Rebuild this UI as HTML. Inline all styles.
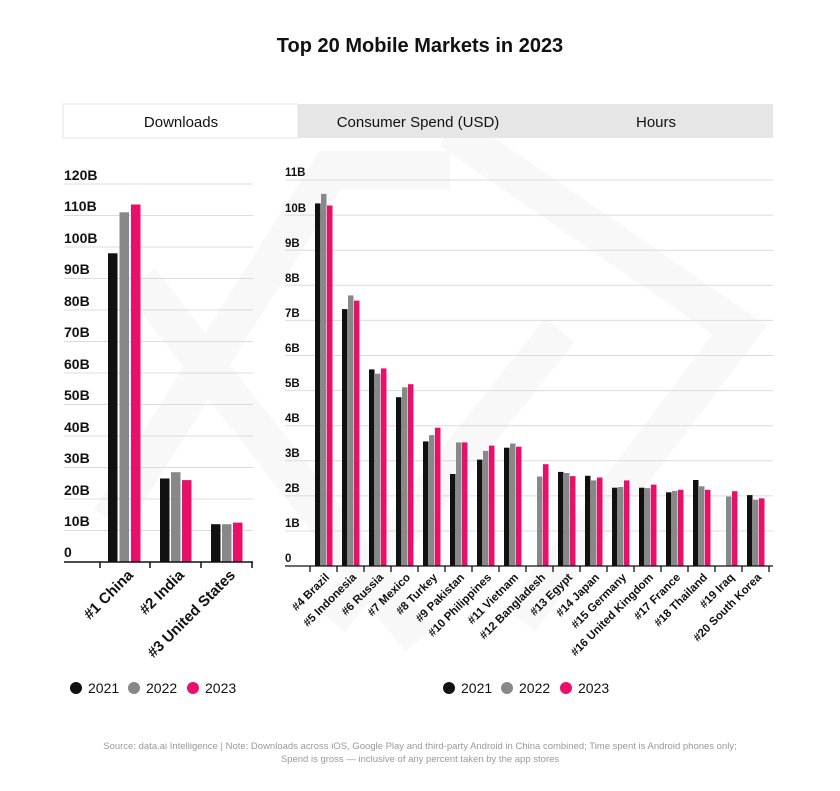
<!DOCTYPE html>
<html><head><meta charset="utf-8"><style>
body{margin:0;background:#fff;}
svg{display:block;font-family:"Liberation Sans",sans-serif;}
</style></head><body>
<svg width="840" height="791" viewBox="0 0 840 791" xmlns="http://www.w3.org/2000/svg">
<rect width="840" height="791" fill="#fff"/>
<!-- watermark -->
<g stroke="#f8f8f8" stroke-width="38" fill="none" stroke-linejoin="miter">
<polyline points="110,520 330,170 450,170"/>
<polyline points="140,280 420,640"/>
<polyline points="450,130 740,330 520,620"/>
<polyline points="330,620 560,330"/>
</g>
<text x="420" y="52" text-anchor="middle" font-size="20" font-weight="bold" fill="#111">Top 20 Mobile Markets in 2023</text>
<!-- tabs -->
<rect x="298" y="104" width="475" height="34" fill="#e6e6e6"/>
<rect x="63" y="104" width="235" height="34" fill="#fff" stroke="#e6e6e6"/>
<text x="181" y="127" text-anchor="middle" font-size="15" fill="#111">Downloads</text>
<text x="418" y="127" text-anchor="middle" font-size="15" fill="#111">Consumer Spend (USD)</text>
<text x="656" y="127" text-anchor="middle" font-size="15" fill="#111">Hours</text>
<!-- left grid -->
<g stroke="#dcdcdc" stroke-width="1">
<line x1="64" x2="253" y1="184" y2="184"/><line x1="64" x2="253" y1="215.5" y2="215.5"/><line x1="64" x2="253" y1="247" y2="247"/><line x1="64" x2="253" y1="278.5" y2="278.5"/><line x1="64" x2="253" y1="310" y2="310"/><line x1="64" x2="253" y1="341.5" y2="341.5"/><line x1="64" x2="253" y1="373" y2="373"/><line x1="64" x2="253" y1="404.5" y2="404.5"/><line x1="64" x2="253" y1="436" y2="436"/><line x1="64" x2="253" y1="467.5" y2="467.5"/><line x1="64" x2="253" y1="499" y2="499"/><line x1="64" x2="253" y1="530.5" y2="530.5"/>
</g>
<g font-size="14" font-weight="bold" fill="#111">
<text x="64" y="180">120B</text><text x="64" y="211">110B</text><text x="64" y="243">100B</text><text x="64" y="274">90B</text><text x="64" y="306">80B</text><text x="64" y="337">70B</text><text x="64" y="369">60B</text><text x="64" y="400">50B</text><text x="64" y="432">40B</text><text x="64" y="463">30B</text><text x="64" y="495">20B</text><text x="64" y="526">10B</text><text x="64" y="557">0</text>
</g>
<rect x="108" y="253.3" width="9.5" height="308.7" fill="#111"/>
<rect x="119.5" y="212.3" width="9.5" height="349.7" fill="#888"/>
<rect x="131" y="204.5" width="9.5" height="357.5" fill="#e8106a"/>
<rect x="160" y="478.5" width="9.5" height="83.5" fill="#111"/>
<rect x="171" y="472.2" width="9.5" height="89.8" fill="#888"/>
<rect x="182" y="480.1" width="9.5" height="81.9" fill="#e8106a"/>
<rect x="211" y="524.2" width="9.5" height="37.8" fill="#111"/>
<rect x="222" y="524.2" width="9.5" height="37.8" fill="#888"/>
<rect x="233" y="522.6" width="9.5" height="39.4" fill="#e8106a"/>
<g stroke="#111" stroke-width="1.5">
<line x1="64" x2="253" y1="562" y2="562"/>
<line x1="100" x2="100" y1="562" y2="568"/><line x1="150" x2="150" y1="562" y2="568"/><line x1="201" x2="201" y1="562" y2="568"/><line x1="252" x2="252" y1="562" y2="568"/>
</g>
<g font-size="15" font-weight="bold" fill="#111" text-anchor="end">
<text transform="translate(134,576) rotate(-45)">#1 China</text>
<text transform="translate(185,576) rotate(-45)">#2 India</text>
<text transform="translate(236,576) rotate(-45)">#3 United States</text>
</g>
<!-- right grid -->
<g stroke="#dcdcdc" stroke-width="1">
<line x1="285" x2="773" y1="180" y2="180"/><line x1="285" x2="773" y1="215.1" y2="215.1"/><line x1="285" x2="773" y1="250.2" y2="250.2"/><line x1="285" x2="773" y1="285.3" y2="285.3"/><line x1="285" x2="773" y1="320.4" y2="320.4"/><line x1="285" x2="773" y1="355.5" y2="355.5"/><line x1="285" x2="773" y1="390.6" y2="390.6"/><line x1="285" x2="773" y1="425.7" y2="425.7"/><line x1="285" x2="773" y1="460.8" y2="460.8"/><line x1="285" x2="773" y1="495.9" y2="495.9"/><line x1="285" x2="773" y1="531" y2="531"/>
</g>
<g font-size="11.5" font-weight="bold" fill="#111">
<text x="285" y="176">11B</text><text x="285" y="212">10B</text><text x="285" y="247">9B</text><text x="285" y="282">8B</text><text x="285" y="317">7B</text><text x="285" y="352">6B</text><text x="285" y="387">5B</text><text x="285" y="422">4B</text><text x="285" y="457">3B</text><text x="285" y="492">2B</text><text x="285" y="527">1B</text><text x="285" y="562">0</text>
</g>
<g>
<rect x="315" y="203.4" width="5.5" height="362.6" fill="#111"/><rect x="321" y="193.9" width="5.5" height="372.1" fill="#888"/><rect x="327" y="205.5" width="5.5" height="360.5" fill="#e8106a"/>
<rect x="342" y="309.1" width="5.5" height="256.9" fill="#111"/><rect x="348" y="295.4" width="5.5" height="270.6" fill="#888"/><rect x="354" y="300.6" width="5.5" height="265.4" fill="#e8106a"/>
<rect x="369" y="369.4" width="5.5" height="196.6" fill="#111"/><rect x="375" y="373.7" width="5.5" height="192.3" fill="#888"/><rect x="381" y="368.4" width="5.5" height="197.6" fill="#e8106a"/>
<rect x="396" y="397.2" width="5.5" height="168.8" fill="#111"/><rect x="402" y="387.3" width="5.5" height="178.7" fill="#888"/><rect x="408" y="384.2" width="5.5" height="181.8" fill="#e8106a"/>
<rect x="423" y="441.4" width="5.5" height="124.6" fill="#111"/><rect x="429" y="435.1" width="5.5" height="130.9" fill="#888"/><rect x="435" y="427.7" width="5.5" height="138.3" fill="#e8106a"/>
<rect x="450" y="474" width="5.5" height="92" fill="#111"/><rect x="456" y="442.4" width="5.5" height="123.6" fill="#888"/><rect x="462" y="442.4" width="5.5" height="123.6" fill="#e8106a"/>
<rect x="477" y="459.6" width="5.5" height="106.4" fill="#111"/><rect x="483" y="450.9" width="5.5" height="115.1" fill="#888"/><rect x="489" y="445.6" width="5.5" height="120.4" fill="#e8106a"/>
<rect x="504" y="447.7" width="5.5" height="118.3" fill="#111"/><rect x="510" y="443.5" width="5.5" height="122.5" fill="#888"/><rect x="516" y="446.7" width="5.5" height="119.3" fill="#e8106a"/>
<rect x="537" y="476.5" width="5.5" height="89.5" fill="#888"/><rect x="543" y="464.2" width="5.5" height="101.8" fill="#e8106a"/>
<rect x="558" y="471.9" width="5.5" height="94.1" fill="#111"/><rect x="564" y="473" width="5.5" height="93" fill="#888"/><rect x="570" y="476.1" width="5.5" height="89.9" fill="#e8106a"/>
<rect x="585" y="475.8" width="5.5" height="90.2" fill="#111"/><rect x="591" y="480.4" width="5.5" height="85.6" fill="#888"/><rect x="597" y="477.5" width="5.5" height="88.5" fill="#e8106a"/>
<rect x="612" y="487.7" width="5.5" height="78.3" fill="#111"/><rect x="618" y="487" width="5.5" height="79" fill="#888"/><rect x="624" y="480.4" width="5.5" height="85.6" fill="#e8106a"/>
<rect x="639" y="487.7" width="5.5" height="78.3" fill="#111"/><rect x="645" y="488.1" width="5.5" height="77.9" fill="#888"/><rect x="651" y="484.6" width="5.5" height="81.4" fill="#e8106a"/>
<rect x="666" y="492.3" width="5.5" height="73.7" fill="#111"/><rect x="672" y="490.9" width="5.5" height="75.1" fill="#888"/><rect x="678" y="489.8" width="5.5" height="76.2" fill="#e8106a"/>
<rect x="693" y="480" width="5.5" height="86" fill="#111"/><rect x="699" y="486.3" width="5.5" height="79.7" fill="#888"/><rect x="705" y="489.8" width="5.5" height="76.2" fill="#e8106a"/>
<rect x="726" y="496.5" width="5.5" height="69.5" fill="#888"/><rect x="732" y="491.2" width="5.5" height="74.8" fill="#e8106a"/>
<rect x="747" y="495.1" width="5.5" height="70.9" fill="#111"/><rect x="753" y="499.7" width="5.5" height="66.3" fill="#888"/><rect x="759" y="498.3" width="5.5" height="67.7" fill="#e8106a"/>
</g>
<g stroke="#111" stroke-width="1.3">
<line x1="285" x2="773" y1="566" y2="566"/>
<line x1="310" x2="310" y1="566" y2="572"/><line x1="337" x2="337" y1="566" y2="572"/><line x1="364" x2="364" y1="566" y2="572"/><line x1="391" x2="391" y1="566" y2="572"/><line x1="418" x2="418" y1="566" y2="572"/><line x1="445" x2="445" y1="566" y2="572"/><line x1="472" x2="472" y1="566" y2="572"/><line x1="499" x2="499" y1="566" y2="572"/><line x1="526" x2="526" y1="566" y2="572"/><line x1="553" x2="553" y1="566" y2="572"/><line x1="580" x2="580" y1="566" y2="572"/><line x1="607" x2="607" y1="566" y2="572"/><line x1="634" x2="634" y1="566" y2="572"/><line x1="661" x2="661" y1="566" y2="572"/><line x1="688" x2="688" y1="566" y2="572"/><line x1="715" x2="715" y1="566" y2="572"/><line x1="742" x2="742" y1="566" y2="572"/><line x1="769" x2="769" y1="566" y2="572"/>
</g>
<g font-size="11.5" font-weight="bold" fill="#111" text-anchor="end">
<text transform="translate(330,578) rotate(-45)">#4 Brazil</text>
<text transform="translate(357,578) rotate(-45)">#5 Indonesia</text>
<text transform="translate(384,578) rotate(-45)">#6 Russia</text>
<text transform="translate(411,578) rotate(-45)">#7 Mexico</text>
<text transform="translate(438,578) rotate(-45)">#8 Turkey</text>
<text transform="translate(465,578) rotate(-45)">#9 Pakistan</text>
<text transform="translate(492,578) rotate(-45)">#10 Philippines</text>
<text transform="translate(519,578) rotate(-45)">#11 Vietnam</text>
<text transform="translate(546,578) rotate(-45)">#12 Bangladesh</text>
<text transform="translate(573,578) rotate(-45)">#13 Egypt</text>
<text transform="translate(600,578) rotate(-45)">#14 Japan</text>
<text transform="translate(627,578) rotate(-45)">#15 Germany</text>
<text transform="translate(654,578) rotate(-45)">#16 United Kingdom</text>
<text transform="translate(681,578) rotate(-45)">#17 France</text>
<text transform="translate(708,578) rotate(-45)">#18 Thailand</text>
<text transform="translate(735,578) rotate(-45)">#19 Iraq</text>
<text transform="translate(762,578) rotate(-45)">#20 South Korea</text>
</g>
<!-- legends -->
<g font-size="14" fill="#111">
<circle cx="76" cy="688" r="6" fill="#111"/><text x="88" y="693">2021</text>
<circle cx="134" cy="688" r="6" fill="#888"/><text x="146" y="693">2022</text>
<circle cx="193" cy="688" r="6" fill="#e8106a"/><text x="205" y="693">2023</text>
<circle cx="449" cy="688" r="6" fill="#111"/><text x="461" y="693">2021</text>
<circle cx="507" cy="688" r="6" fill="#888"/><text x="519" y="693">2022</text>
<circle cx="566" cy="688" r="6" fill="#e8106a"/><text x="578" y="693">2023</text>
</g>
<g font-size="9.5" fill="#999" text-anchor="middle">
<text x="420" y="749">Source: data.ai Intelligence | Note: Downloads across iOS, Google Play and third-party Android in China combined; Time spent is Android phones only;</text>
<text x="420" y="762">Spend is gross — inclusive of any percent taken by the app stores</text>
</g>
</svg>
</body></html>
